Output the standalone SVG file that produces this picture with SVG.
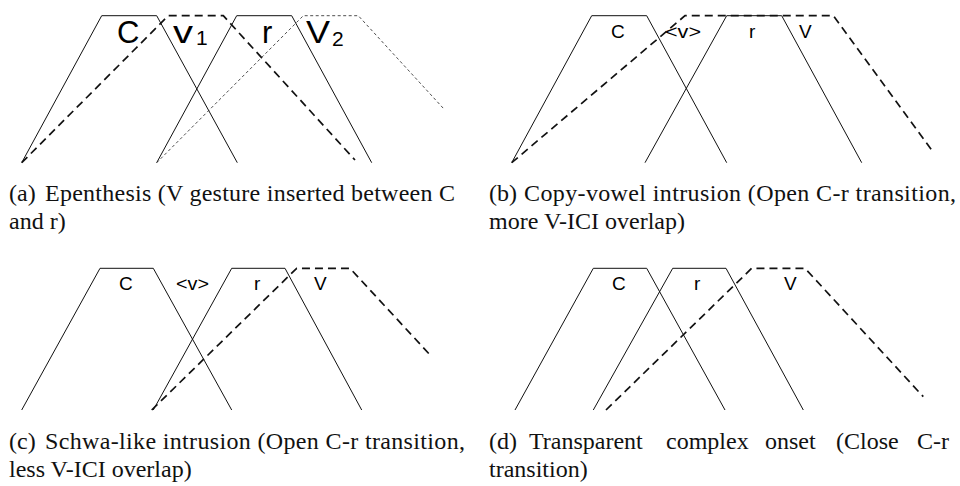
<svg xmlns="http://www.w3.org/2000/svg" width="960" height="486" viewBox="0 0 960 486">
<style>
.solid{fill:none;stroke:#111;stroke-width:1;stroke-linejoin:miter}
.dash{fill:none;stroke:#111;stroke-width:1.7;stroke-dasharray:8 5}
.dot{fill:none;stroke:#222;stroke-width:0.8;stroke-dasharray:3 2.5}
.lbA{font-family:"Liberation Sans",Arial,sans-serif;font-size:31px;fill:#000}
.sub{font-family:"Liberation Sans",Arial,sans-serif;font-size:21px;fill:#000}
.lb{font-family:"Liberation Sans",Arial,sans-serif;font-size:19px;fill:#000}
.cap{font-family:"Liberation Serif","Times New Roman",serif;font-size:24px;fill:#111}
</style>
<rect width="960" height="486" fill="#fff"/>

<!-- Panel (a) -->
<g id="panel-a">
  <g id="a-C"><path class="solid" d="M21.7,162.7 L101.7,15.7 L156.7,15.7 L237.3,162.7"/><text class="lbA" x="117" y="43">C</text></g>
  <g id="a-V1"><path class="dash" d="M21.7,162.7 L168.3,15.7 L223.3,15.7 L355,160"/><text class="lbA" x="173" y="43" textLength="20" lengthAdjust="spacingAndGlyphs">v</text><text class="sub" x="196" y="44.5">1</text></g>
  <g id="a-r"><path class="solid" d="M156.7,162.7 L236.7,15.7 L291.7,15.7 L371.7,162.7"/><text class="lbA" x="262" y="43">r</text></g>
  <g id="a-V2"><path class="dot" d="M156.7,162.7 L303.3,15.7 L358.3,15.7 L443.3,108.3"/><text class="lbA" x="306" y="43" textLength="24" lengthAdjust="spacingAndGlyphs">V</text><text class="sub" x="332" y="46">2</text></g>
</g>

<!-- Panel (b) -->
<g id="panel-b">
  <g id="b-C"><path class="solid" d="M511.7,162.7 L591.7,15.7 L646.7,15.7 L726.7,162.7"/><text class="lb" x="611" y="38.3">C</text></g>
  <g id="b-V"><path class="dash" d="M511.7,162.7 L685,15.7 L833.3,15.7 L931.7,150"/><text class="lb" x="665" y="38.3" textLength="36" lengthAdjust="spacingAndGlyphs">&lt;v&gt;</text><text class="lb" x="799" y="38.3">V</text></g>
  <g id="b-r"><path class="solid" d="M645,162.7 L726.7,15.7 L781.7,15.7 L861.7,162.7"/><text class="lb" x="749" y="38.3">r</text></g>
</g>

<!-- Panel (c) -->
<g id="panel-c">
  <g id="c-C"><path class="solid" d="M21.7,410 L100,268.3 L153.3,268.3 L231.7,410"/><text class="lb" x="119" y="290">C</text><text class="lb" x="176" y="290" textLength="33" lengthAdjust="spacingAndGlyphs">&lt;v&gt;</text></g>
  <g id="c-r"><path class="solid" d="M153.3,410 L231.7,268.3 L285,268.3 L361.7,410"/><text class="lb" x="254" y="290">r</text></g>
  <g id="c-V"><path class="dash" d="M151.7,410 L296.7,268.3 L350,268.3 L431.7,356.7"/><text class="lb" x="314" y="290">V</text></g>
</g>

<!-- Panel (d) -->
<g id="panel-d">
  <g id="d-C"><path class="solid" d="M515,410 L593.3,268.3 L646.7,268.3 L725,410"/><text class="lb" x="612" y="290">C</text></g>
  <g id="d-r"><path class="solid" d="M593.3,410 L672.7,268.3 L726,268.3 L803.3,410"/><text class="lb" x="694" y="290">r</text></g>
  <g id="d-V"><path class="dash" d="M606,410 L751.7,268.3 L805,268.3 L923.3,396.7"/><text class="lb" x="784" y="290">V</text></g>
</g>

<!-- Captions -->
<g id="captions">
  <text class="cap" x="9" y="200.5">(a)</text>
  <text class="cap" x="45" y="200.5" textLength="410" lengthAdjust="spacing">Epenthesis (V gesture inserted between C</text>
  <text class="cap" x="9" y="228.5">and r)</text>

  <text class="cap" x="489" y="200.5">(b)</text>
  <text class="cap" x="524" y="200.5" textLength="432" lengthAdjust="spacing">Copy-vowel intrusion (Open C-r transition,</text>
  <text class="cap" x="489" y="228.5">more V-ICI overlap)</text>

  <text class="cap" x="9" y="449">(c)</text>
  <text class="cap" x="45" y="449" textLength="420" lengthAdjust="spacing">Schwa-like intrusion (Open C-r transition,</text>
  <text class="cap" x="9" y="477">less V-ICI overlap)</text>

  <text class="cap" y="449"><tspan x="489">(d)</tspan><tspan x="529">Transparent</tspan><tspan x="666">complex</tspan><tspan x="765">onset</tspan><tspan x="836">(Close</tspan><tspan x="917">C-r</tspan></text>
  <text class="cap" x="489" y="477">transition)</text>
</g>
</svg>
